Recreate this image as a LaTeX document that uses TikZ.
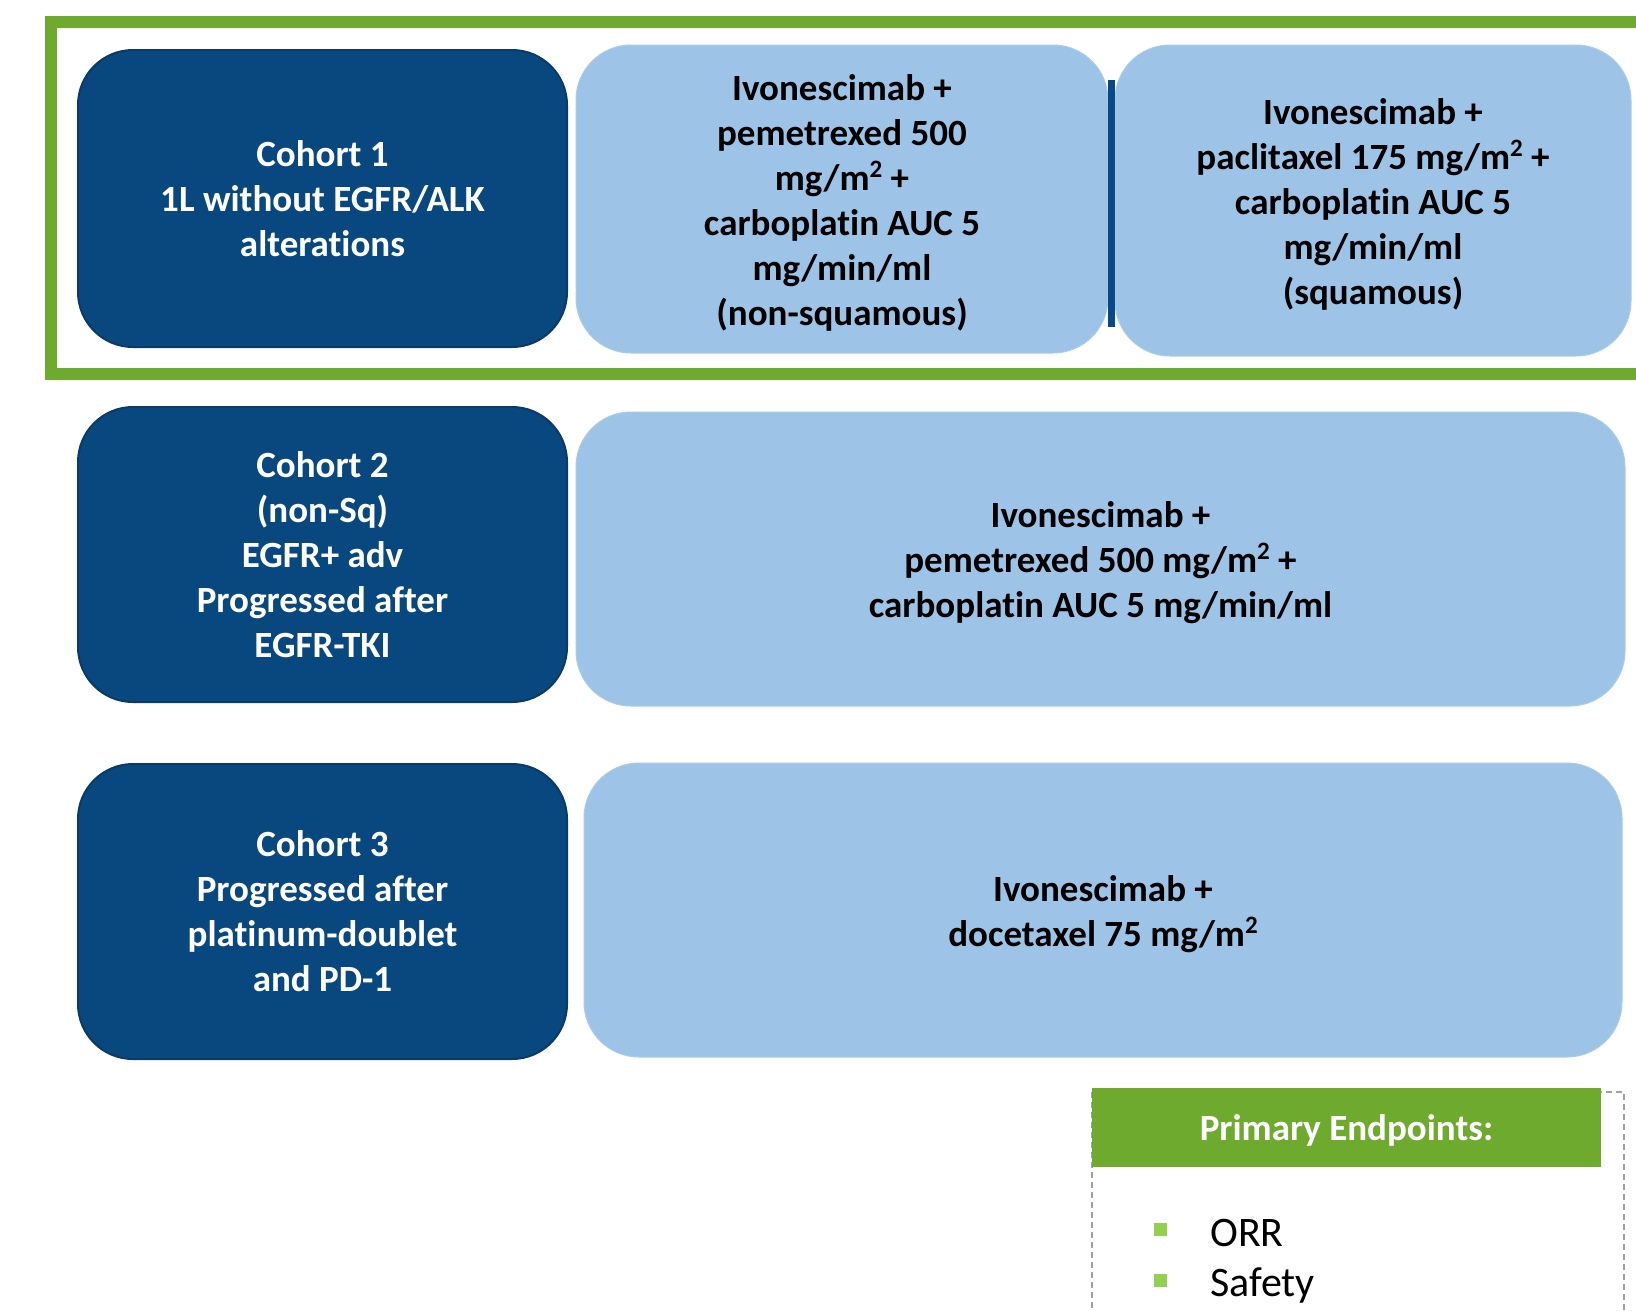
\documentclass[tikz,border=0pt]{standalone}
\usepackage{fontspec}
\setmainfont[Ligatures=NoCommon]{Carlito}
\usetikzlibrary{positioning}
\definecolor{frameGreen}{HTML}{6EAA2E}
\definecolor{darkBlue}{HTML}{08487F}
\definecolor{darkBlueLine}{HTML}{0A3A66}
\definecolor{lightBlue}{HTML}{9DC3E6}
\definecolor{lightBlueLine}{HTML}{A9CCEA}
\definecolor{bulletGreen}{HTML}{92D050}
\definecolor{dashGray}{HTML}{A0A0A0}
\definecolor{dividerBlue}{HTML}{084A86}
\newcommand\sqtwo{\raisebox{0.36em}{\fontsize{25}{25}\selectfont 2}}
\begin{document}
\begin{tikzpicture}[x=1pt,y=-1pt,
  cohortbox/.style={draw=darkBlueLine, line width=2pt, fill=darkBlue, rounded corners=55pt,
    text=white, align=center, inner sep=0pt,
    font=\bfseries\fontsize{37}{45}\selectfont},
  armbox/.style={draw=lightBlueLine, line width=1pt, fill=lightBlue, rounded corners=55pt,
    inner sep=0pt},
  armtext/.style={text=black, align=center, inner sep=0pt,
    font=\bfseries\fontsize{37}{45}\selectfont},
  headbox/.style={fill=frameGreen, text=white, inner sep=0pt,
    font=\bfseries\fontsize{37}{45}\selectfont},
  bulletsq/.style={fill=bulletGreen, minimum size=13pt, inner sep=0pt},
  itemtext/.style={anchor=base west, inner sep=0pt, font=\fontsize{42}{50}\selectfont}
]
\clip (0,0) rectangle (1636,1310);
\fill[white] (0,0) rectangle (1636,1310);

% green frame around cohort 1 (open on the right, cut by the page edge)
\draw[frameGreen, line width=12pt] (1700,22) -- (51,22) -- (51,374) -- (1700,374);

% cohort 1
\node[cohortbox, minimum width=489pt, minimum height=297pt] (c1) at (322.5,198.5)
  {Cohort 1\\1L without EGFR/ALK\\alterations};
\node[armbox, minimum width=532pt, minimum height=308pt] (a1) at (842,199) {};
\node[armtext] (a1t) at ([yshift=-4pt]a1.center)
  {Ivonescimab +\\pemetrexed 500\\mg/m\sqtwo\ +\\carboplatin AUC 5\\mg/min/ml\\(non-squamous)};
\node[armbox, minimum width=516pt, minimum height=311pt] (a1b) at (1373,200.5) {};
\node[armtext] (a1bt) at ([yshift=-4pt]a1b.center)
  {Ivonescimab +\\paclitaxel 175 mg/m\sqtwo\ +\\carboplatin AUC 5\\mg/min/ml\\(squamous)};
\coordinate (divtop) at (1111.5,80);
\coordinate (divbot) at (1111.5,327);
\draw[dividerBlue, line width=7pt] (divtop) -- (divbot);

% cohort 2
\node[cohortbox, minimum width=489pt, minimum height=295pt] (c2) at (322.5,554.5)
  {Cohort 2\\(non-Sq)\\EGFR+ adv\\Progressed after\\EGFR-TKI};
\node[armbox, minimum width=1049pt, minimum height=294pt] (a2) at (1100.5,559) {};
\node[armtext] (a2t) at ([yshift=-4pt]a2.center)
  {Ivonescimab +\\pemetrexed 500 mg/m\sqtwo\ +\\carboplatin AUC 5 mg/min/ml};

% cohort 3
\node[cohortbox, minimum width=489pt, minimum height=295pt] (c3) at (322.5,911.5)
  {Cohort 3\\Progressed after\\platinum-doublet\\and PD-1};
\node[armbox, minimum width=1038pt, minimum height=294pt] (a3) at (1103,910) {};
\node[armtext] (a3t) at ([yshift=-4pt]a3.center)
  {Ivonescimab +\\docetaxel 75 mg/m\sqtwo};

% primary endpoints
\coordinate (dboxtl) at (1092,1092);
\coordinate (dboxbr) at (1624,1400);
\draw[dashGray, line width=2pt, dash pattern=on 6pt off 4pt] (dboxtl) rectangle (dboxbr);
\node[headbox, minimum width=509pt, minimum height=79pt] (pe) at (1346.5,1127.5) {};
\node[text=white, inner sep=0pt, font=\bfseries\fontsize{37}{45}\selectfont] (pet)
  at ([yshift=-3pt]pe.center) {Primary Endpoints:};
\node[bulletsq] (b1) at (1160,1229) {};
\node[bulletsq] (b2) at (1160,1280) {};
\node[itemtext] (orr) at (1210,1246) {ORR};
\node[itemtext] (saf) at (1210,1296) {Safety};
\end{tikzpicture}
\end{document}
